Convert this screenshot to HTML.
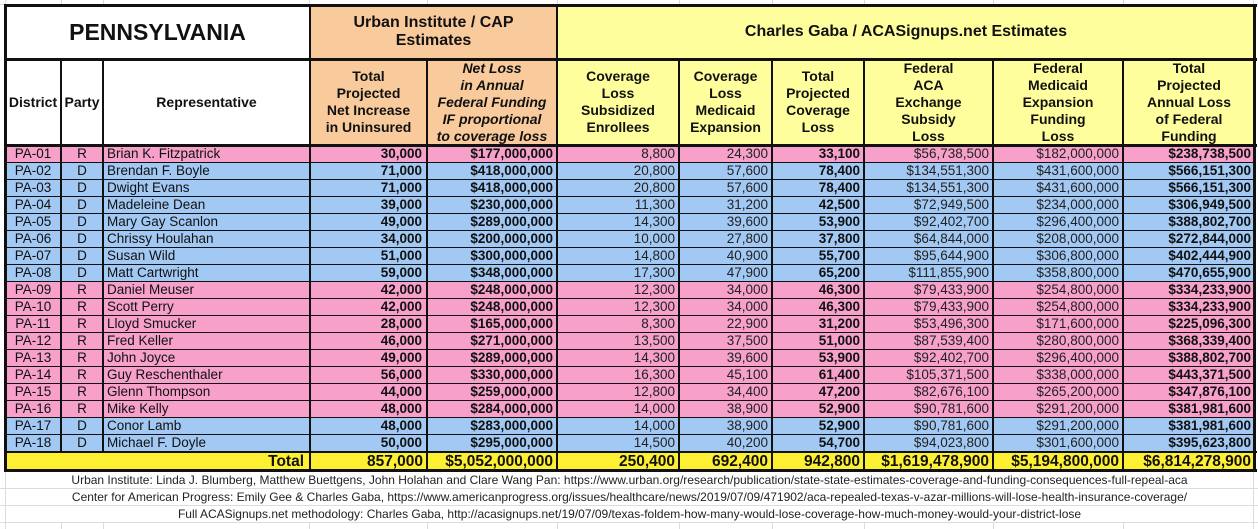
<!DOCTYPE html>
<html><head><meta charset="utf-8">
<style>
html,body{margin:0;padding:0}
body{width:1258px;height:529px;position:relative;overflow:hidden;background:#fff;font-family:"Liberation Sans",Arial,sans-serif;color:#111}
.a{position:absolute}
.g{position:absolute;background:#dcdcdc}
.k{position:absolute;background:#111}
.row{position:absolute;left:5px;width:1250px;height:17px}
.row div{position:absolute;top:0;height:17px;line-height:17px;font-size:13.5px;white-space:nowrap;box-sizing:border-box}
.p{background:#f6a0ca}
.b{background:#a2c8f4}
.c1{left:0;width:56px;text-align:center}
.c2{left:56px;width:42px;text-align:center}
.c3{left:98px;width:207px;padding-left:4px}
.c4{left:305px;width:117px;text-align:right;padding-right:5px;font-weight:bold}
.c5{left:422px;width:130px;text-align:right;padding-right:4px;font-weight:bold}
.c6{left:552px;width:122px;text-align:right;padding-right:4px;color:#222}
.c7{left:674px;width:93px;text-align:right;padding-right:4px;color:#222}
.c8{left:767px;width:92px;text-align:right;padding-right:4px;font-weight:bold}
.c9{left:859px;width:129px;text-align:right;padding-right:4px;color:#222}
.c10{left:988px;width:130px;text-align:right;padding-right:4px;color:#222}
.c11{left:1118px;width:132px;text-align:right;padding-right:4px;font-weight:bold}
.h{position:absolute;top:59px;height:86px;display:flex;align-items:center;justify-content:center;text-align:center;font-weight:bold;font-size:14px;line-height:17px}
.tot{position:absolute;left:5px;top:452px;width:1250px;height:19px;background:#fdef32}
.tot div{position:absolute;top:0;height:19px;line-height:19px;font-size:15.5px;font-weight:bold;white-space:nowrap;box-sizing:border-box;text-align:right;padding-right:4px}
.f{position:absolute;left:6px;width:1247px;height:16px;line-height:16px;text-align:center;font-size:12px;color:#222;white-space:nowrap;background:#fff}
</style></head><body>

<!-- background spreadsheet gridlines -->
<div class="g" style="left:0;top:4px;width:1258px;height:1px"></div>
<div class="g" style="left:0;top:488px;width:1258px;height:1px"></div>
<div class="g" style="left:0;top:505px;width:1258px;height:1px"></div>
<div class="g" style="left:0;top:522px;width:1258px;height:1px"></div>
<div class="g" style="left:5px;top:0;width:1px;height:529px"></div>
<div class="g" style="left:61px;top:0;width:1px;height:529px"></div>
<div class="g" style="left:103px;top:0;width:1px;height:529px"></div>
<div class="g" style="left:309px;top:0;width:1px;height:529px"></div>
<div class="g" style="left:427px;top:0;width:1px;height:529px"></div>
<div class="g" style="left:557px;top:0;width:1px;height:529px"></div>
<div class="g" style="left:679px;top:0;width:1px;height:529px"></div>
<div class="g" style="left:772px;top:0;width:1px;height:529px"></div>
<div class="g" style="left:864px;top:0;width:1px;height:529px"></div>
<div class="g" style="left:993px;top:0;width:1px;height:529px"></div>
<div class="g" style="left:1123px;top:0;width:1px;height:529px"></div>
<div class="g" style="left:1253px;top:0;width:1px;height:529px"></div>

<!-- title row -->
<div class="a" style="left:5px;top:5px;width:305px;height:54px;background:#fff;display:flex;align-items:center;justify-content:center;font-weight:bold;font-size:23px">PENNSYLVANIA</div>
<div class="a" style="left:310px;top:5px;width:247px;height:54px;background:#f9cb9c;display:flex;align-items:center;justify-content:center;text-align:center;font-weight:bold;font-size:16px;line-height:18px">Urban Institute / CAP<br>Estimates</div>
<div class="a" style="left:557px;top:5px;width:698px;height:54px;background:#fefe9c;display:flex;align-items:center;justify-content:center;font-weight:bold;font-size:16px">Charles Gaba / ACASignups.net Estimates</div>

<!-- header row -->
<div class="h" style="left:5px;width:56px;background:#fff">District</div>
<div class="h" style="left:61px;width:42px;background:#fff">Party</div>
<div class="h" style="left:103px;width:207px;background:#fff">Representative</div>
<div class="h" style="left:310px;width:117px;background:#f9cb9c">Total<br>Projected<br>Net Increase<br>in Uninsured</div>
<div class="h" style="left:427px;width:130px;background:#f9cb9c;font-style:italic">Net Loss<br>in Annual<br>Federal Funding<br>IF proportional<br>to coverage loss</div>
<div class="h" style="left:557px;width:122px;background:#fefe9c">Coverage<br>Loss<br>Subsidized<br>Enrollees</div>
<div class="h" style="left:679px;width:93px;background:#fefe9c">Coverage<br>Loss<br>Medicaid<br>Expansion</div>
<div class="h" style="left:772px;width:92px;background:#fefe9c">Total<br>Projected<br>Coverage<br>Loss</div>
<div class="h" style="left:864px;width:129px;background:#fefe9c">Federal<br>ACA<br>Exchange<br>Subsidy<br>Loss</div>
<div class="h" style="left:993px;width:130px;background:#fefe9c">Federal<br>Medicaid<br>Expansion<br>Funding<br>Loss</div>
<div class="h" style="left:1123px;width:132px;background:#fefe9c">Total<br>Projected<br>Annual Loss<br>of Federal<br>Funding</div>

<!-- data rows -->
<div class="row p" style="top:145px"><div class="c1">PA-01</div><div class="c2">R</div><div class="c3">Brian K. Fitzpatrick</div><div class="c4">30,000</div><div class="c5">$177,000,000</div><div class="c6">8,800</div><div class="c7">24,300</div><div class="c8">33,100</div><div class="c9">$56,738,500</div><div class="c10">$182,000,000</div><div class="c11">$238,738,500</div></div>
<div class="row b" style="top:162px"><div class="c1">PA-02</div><div class="c2">D</div><div class="c3">Brendan F. Boyle</div><div class="c4">71,000</div><div class="c5">$418,000,000</div><div class="c6">20,800</div><div class="c7">57,600</div><div class="c8">78,400</div><div class="c9">$134,551,300</div><div class="c10">$431,600,000</div><div class="c11">$566,151,300</div></div>
<div class="row b" style="top:179px"><div class="c1">PA-03</div><div class="c2">D</div><div class="c3">Dwight Evans</div><div class="c4">71,000</div><div class="c5">$418,000,000</div><div class="c6">20,800</div><div class="c7">57,600</div><div class="c8">78,400</div><div class="c9">$134,551,300</div><div class="c10">$431,600,000</div><div class="c11">$566,151,300</div></div>
<div class="row b" style="top:196px"><div class="c1">PA-04</div><div class="c2">D</div><div class="c3">Madeleine Dean</div><div class="c4">39,000</div><div class="c5">$230,000,000</div><div class="c6">11,300</div><div class="c7">31,200</div><div class="c8">42,500</div><div class="c9">$72,949,500</div><div class="c10">$234,000,000</div><div class="c11">$306,949,500</div></div>
<div class="row b" style="top:213px"><div class="c1">PA-05</div><div class="c2">D</div><div class="c3">Mary Gay Scanlon</div><div class="c4">49,000</div><div class="c5">$289,000,000</div><div class="c6">14,300</div><div class="c7">39,600</div><div class="c8">53,900</div><div class="c9">$92,402,700</div><div class="c10">$296,400,000</div><div class="c11">$388,802,700</div></div>
<div class="row b" style="top:230px"><div class="c1">PA-06</div><div class="c2">D</div><div class="c3">Chrissy Houlahan</div><div class="c4">34,000</div><div class="c5">$200,000,000</div><div class="c6">10,000</div><div class="c7">27,800</div><div class="c8">37,800</div><div class="c9">$64,844,000</div><div class="c10">$208,000,000</div><div class="c11">$272,844,000</div></div>
<div class="row b" style="top:247px"><div class="c1">PA-07</div><div class="c2">D</div><div class="c3">Susan Wild</div><div class="c4">51,000</div><div class="c5">$300,000,000</div><div class="c6">14,800</div><div class="c7">40,900</div><div class="c8">55,700</div><div class="c9">$95,644,900</div><div class="c10">$306,800,000</div><div class="c11">$402,444,900</div></div>
<div class="row b" style="top:264px"><div class="c1">PA-08</div><div class="c2">D</div><div class="c3">Matt Cartwright</div><div class="c4">59,000</div><div class="c5">$348,000,000</div><div class="c6">17,300</div><div class="c7">47,900</div><div class="c8">65,200</div><div class="c9">$111,855,900</div><div class="c10">$358,800,000</div><div class="c11">$470,655,900</div></div>
<div class="row p" style="top:281px"><div class="c1">PA-09</div><div class="c2">R</div><div class="c3">Daniel Meuser</div><div class="c4">42,000</div><div class="c5">$248,000,000</div><div class="c6">12,300</div><div class="c7">34,000</div><div class="c8">46,300</div><div class="c9">$79,433,900</div><div class="c10">$254,800,000</div><div class="c11">$334,233,900</div></div>
<div class="row p" style="top:298px"><div class="c1">PA-10</div><div class="c2">R</div><div class="c3">Scott Perry</div><div class="c4">42,000</div><div class="c5">$248,000,000</div><div class="c6">12,300</div><div class="c7">34,000</div><div class="c8">46,300</div><div class="c9">$79,433,900</div><div class="c10">$254,800,000</div><div class="c11">$334,233,900</div></div>
<div class="row p" style="top:315px"><div class="c1">PA-11</div><div class="c2">R</div><div class="c3">Lloyd Smucker</div><div class="c4">28,000</div><div class="c5">$165,000,000</div><div class="c6">8,300</div><div class="c7">22,900</div><div class="c8">31,200</div><div class="c9">$53,496,300</div><div class="c10">$171,600,000</div><div class="c11">$225,096,300</div></div>
<div class="row p" style="top:332px"><div class="c1">PA-12</div><div class="c2">R</div><div class="c3">Fred Keller</div><div class="c4">46,000</div><div class="c5">$271,000,000</div><div class="c6">13,500</div><div class="c7">37,500</div><div class="c8">51,000</div><div class="c9">$87,539,400</div><div class="c10">$280,800,000</div><div class="c11">$368,339,400</div></div>
<div class="row p" style="top:349px"><div class="c1">PA-13</div><div class="c2">R</div><div class="c3">John Joyce</div><div class="c4">49,000</div><div class="c5">$289,000,000</div><div class="c6">14,300</div><div class="c7">39,600</div><div class="c8">53,900</div><div class="c9">$92,402,700</div><div class="c10">$296,400,000</div><div class="c11">$388,802,700</div></div>
<div class="row p" style="top:366px"><div class="c1">PA-14</div><div class="c2">R</div><div class="c3">Guy Reschenthaler</div><div class="c4">56,000</div><div class="c5">$330,000,000</div><div class="c6">16,300</div><div class="c7">45,100</div><div class="c8">61,400</div><div class="c9">$105,371,500</div><div class="c10">$338,000,000</div><div class="c11">$443,371,500</div></div>
<div class="row p" style="top:383px"><div class="c1">PA-15</div><div class="c2">R</div><div class="c3">Glenn Thompson</div><div class="c4">44,000</div><div class="c5">$259,000,000</div><div class="c6">12,800</div><div class="c7">34,400</div><div class="c8">47,200</div><div class="c9">$82,676,100</div><div class="c10">$265,200,000</div><div class="c11">$347,876,100</div></div>
<div class="row p" style="top:400px"><div class="c1">PA-16</div><div class="c2">R</div><div class="c3">Mike Kelly</div><div class="c4">48,000</div><div class="c5">$284,000,000</div><div class="c6">14,000</div><div class="c7">38,900</div><div class="c8">52,900</div><div class="c9">$90,781,600</div><div class="c10">$291,200,000</div><div class="c11">$381,981,600</div></div>
<div class="row b" style="top:417px"><div class="c1">PA-17</div><div class="c2">D</div><div class="c3">Conor Lamb</div><div class="c4">48,000</div><div class="c5">$283,000,000</div><div class="c6">14,000</div><div class="c7">38,900</div><div class="c8">52,900</div><div class="c9">$90,781,600</div><div class="c10">$291,200,000</div><div class="c11">$381,981,600</div></div>
<div class="row b" style="top:434px"><div class="c1">PA-18</div><div class="c2">D</div><div class="c3">Michael F. Doyle</div><div class="c4">50,000</div><div class="c5">$295,000,000</div><div class="c6">14,500</div><div class="c7">40,200</div><div class="c8">54,700</div><div class="c9">$94,023,800</div><div class="c10">$301,600,000</div><div class="c11">$395,623,800</div></div>

<!-- total row -->
<div class="tot">
<div style="left:0;width:305px;padding-right:6px">Total</div>
<div style="left:305px;width:117px">857,000</div>
<div style="left:422px;width:130px">$5,052,000,000</div>
<div style="left:552px;width:122px">250,400</div>
<div style="left:674px;width:93px">692,400</div>
<div style="left:767px;width:92px">942,800</div>
<div style="left:859px;width:129px">$1,619,478,900</div>
<div style="left:988px;width:130px">$5,194,800,000</div>
<div style="left:1118px;width:132px">$6,814,278,900</div>
</div>

<!-- footer -->
<div class="f" style="top:472px">Urban Institute: Linda J. Blumberg, Matthew Buettgens, John Holahan and Clare Wang Pan: https://www.urban.org/research/publication/state-state-estimates-coverage-and-funding-consequences-full-repeal-aca</div>
<div class="f" style="top:489px">Center for American Progress: Emily Gee &amp; Charles Gaba, https://www.americanprogress.org/issues/healthcare/news/2019/07/09/471902/aca-repealed-texas-v-azar-millions-will-lose-health-insurance-coverage/</div>
<div class="f" style="top:506px">Full ACASignups.net methodology: Charles Gaba, http://acasignups.net/19/07/09/texas-foldem-how-many-would-lose-coverage-how-much-money-would-your-district-lose</div>

<!-- thin row separators -->
<div class="k" style="left:5px;top:162px;width:1250px;height:1px"></div>
<div class="k" style="left:5px;top:179px;width:1250px;height:1px"></div>
<div class="k" style="left:5px;top:196px;width:1250px;height:1px"></div>
<div class="k" style="left:5px;top:213px;width:1250px;height:1px"></div>
<div class="k" style="left:5px;top:230px;width:1250px;height:1px"></div>
<div class="k" style="left:5px;top:247px;width:1250px;height:1px"></div>
<div class="k" style="left:5px;top:264px;width:1250px;height:1px"></div>
<div class="k" style="left:5px;top:281px;width:1250px;height:1px"></div>
<div class="k" style="left:5px;top:298px;width:1250px;height:1px"></div>
<div class="k" style="left:5px;top:315px;width:1250px;height:1px"></div>
<div class="k" style="left:5px;top:332px;width:1250px;height:1px"></div>
<div class="k" style="left:5px;top:349px;width:1250px;height:1px"></div>
<div class="k" style="left:5px;top:366px;width:1250px;height:1px"></div>
<div class="k" style="left:5px;top:383px;width:1250px;height:1px"></div>
<div class="k" style="left:5px;top:400px;width:1250px;height:1px"></div>
<div class="k" style="left:5px;top:417px;width:1250px;height:1px"></div>
<div class="k" style="left:5px;top:434px;width:1250px;height:1px"></div>

<!-- thick horizontal lines -->
<div class="k" style="left:4px;top:4px;width:1253px;height:3px"></div>
<div class="k" style="left:4px;top:58px;width:1253px;height:3px"></div>
<div class="k" style="left:4px;top:144px;width:1253px;height:3px"></div>
<div class="k" style="left:4px;top:451px;width:1253px;height:2px"></div>
<div class="k" style="left:4px;top:469px;width:1253px;height:3px"></div>

<!-- vertical lines -->
<div class="k" style="left:4px;top:4px;width:3px;height:468px"></div>
<div class="k" style="left:1253px;top:4px;width:3px;height:468px"></div>
<div class="k" style="left:309px;top:4px;width:2px;height:468px"></div>
<div class="k" style="left:556px;top:4px;width:2px;height:468px"></div>
<div class="k" style="left:60px;top:59px;width:2px;height:393px"></div>
<div class="k" style="left:102px;top:59px;width:2px;height:393px"></div>
<div class="k" style="left:426px;top:59px;width:2px;height:413px"></div>
<div class="k" style="left:678px;top:59px;width:2px;height:413px"></div>
<div class="k" style="left:771px;top:59px;width:2px;height:413px"></div>
<div class="k" style="left:863px;top:59px;width:2px;height:413px"></div>
<div class="k" style="left:992px;top:59px;width:2px;height:413px"></div>
<div class="k" style="left:1122px;top:59px;width:2px;height:413px"></div>

</body></html>
